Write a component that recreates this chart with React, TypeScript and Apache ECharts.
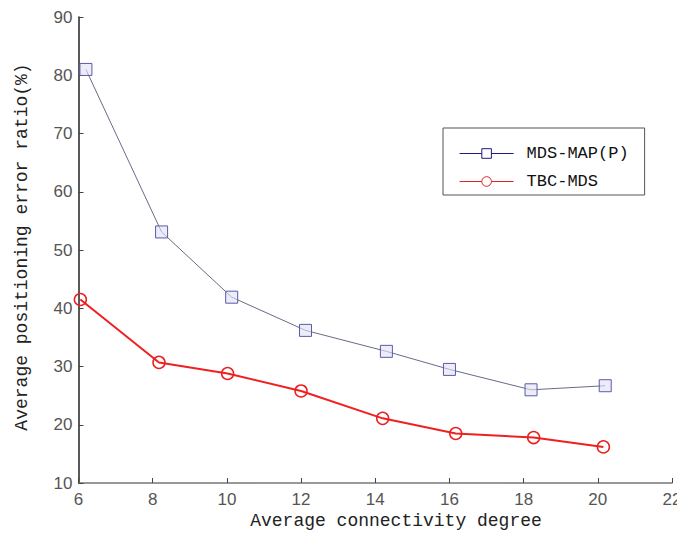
import React, { useEffect, useRef } from "react";
import * as echarts from "echarts";

const mdsX = [6.2, 8.24, 10.13, 12.12, 14.3, 16.0, 18.2, 20.2];
const mdsY = [81, 53.1, 41.9, 36.2, 32.6, 29.5, 26.0, 26.7];
const tbcX = [6.05, 8.17, 10.02, 12.0, 14.2, 16.17, 18.27, 20.15];
const tbcY = [41.5, 30.7, 28.8, 25.8, 21.1, 18.5, 17.8, 16.2];
const seriesNames = ["MDS-MAP(P)", "TBC-MDS"];
const xTitle = "Average connectivity degree";
const yTitle = "Average positioning error ratio(%)";

export default function App() {
  const ref = useRef<HTMLDivElement>(null);
  useEffect(() => {
    if (!ref.current) return;
    const chart = echarts.init(ref.current, null, { renderer: "svg" });
    const tickFont = { fontFamily: "'Liberation Sans', sans-serif", fontSize: 17, color: "#555" };
    chart.setOption({
      animation: false,
      backgroundColor: "#fff",
      grid: { left: 78.5, right: 5, top: 17, bottom: 52, containLabel: false, outerBoundsMode: "none" },
      xAxis: {
        type: "value",
        min: 6,
        max: 22,
        interval: 2,
        splitLine: { show: false },
        axisLine: { show: true, onZero: false, lineStyle: { color: "#777", width: 1.5 } },
        axisTick: { show: true, inside: true, length: 5, lineStyle: { color: "#444", width: 1 } },
        axisLabel: { ...tickFont, margin: 8, showMaxLabel: true, showMinLabel: true, hideOverlap: false },
      },
      yAxis: {
        type: "value",
        min: 10,
        max: 90,
        interval: 10,
        splitLine: { show: false },
        axisLine: { show: true, onZero: false, lineStyle: { color: "#222", width: 1.5 } },
        axisTick: { show: true, inside: true, length: 5, lineStyle: { color: "#444", width: 1 } },
        axisLabel: { ...tickFont, margin: 6 },
      },
      legend: {
        orient: "vertical",
        left: 443,
        top: 128,
        itemWidth: 54,
        itemHeight: 12,
        itemGap: 11,
        padding: [17, 16, 5, 16],
        borderColor: "#555",
        borderWidth: 1,
        backgroundColor: "#fff",
        textStyle: { fontFamily: "'Liberation Mono', monospace", fontSize: 17, color: "#111", padding: [0, 0, 0, 8] },
        data: [
          { name: seriesNames[0], lineStyle: { color: "#1c1c7a", width: 1.2 }, itemStyle: { color: "#fff", borderColor: "#1c1c7a", borderWidth: 1 } },
          { name: seriesNames[1], lineStyle: { color: "#e02020", width: 1.2 }, itemStyle: { color: "#fff", borderColor: "#e02020", borderWidth: 1 } },
        ],
      },
      series: [
        {
          name: seriesNames[0],
          type: "line",
          data: mdsX.map((x, i) => [x, mdsY[i]]),
          symbol: "rect",
          symbolSize: 12,
          lineStyle: { color: "#6a6a88", width: 1 },
          itemStyle: { color: "rgba(225,225,245,0.6)", borderColor: "#5a5aa8", borderWidth: 1 },
          z: 3,
        },
        {
          name: seriesNames[1],
          type: "line",
          data: tbcX.map((x, i) => [x, tbcY[i]]),
          symbol: "circle",
          symbolSize: 12,
          lineStyle: { color: "#f02020", width: 2 },
          itemStyle: { color: "rgba(255,255,255,0)", borderColor: "#e82020", borderWidth: 1.5 },
          z: 4,
        },
      ],
      graphic: [
        {
          type: "text",
          x: 396,
          y: 521,
          style: {
            text: xTitle,
            fontFamily: "'Liberation Mono', monospace",
            fontSize: 18,
            fill: "#222",
            align: "center",
            verticalAlign: "middle",
          },
        },
        {
          type: "text",
          x: 22,
          y: 247,
          rotation: Math.PI / 2,
          style: {
            text: yTitle,
            fontFamily: "'Liberation Mono', monospace",
            fontSize: 18,
            fill: "#222",
            align: "center",
            verticalAlign: "middle",
          },
        },
      ],
    });
    return () => chart.dispose();
  }, []);
  return <div ref={ref} style={{ position: "fixed", left: 0, top: 0, width: 677, height: 535 }} />;
}
